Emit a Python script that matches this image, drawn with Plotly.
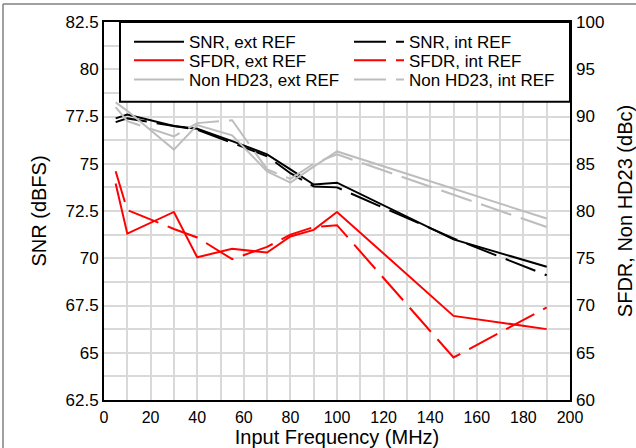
import plotly.graph_objects as go

freq = [5, 10, 30, 40, 55, 70, 80, 90, 100, 150, 190]

snr_ext = [77.4, 77.6, 77.0, 76.85, 76.2, 75.5, 74.7, 73.9, 74.0, 71.0, 69.55]
snr_int = [77.2, 77.4, 77.0, 76.8, 76.1, 75.4, 74.5, 73.8, 73.75, 71.05, 69.1]

sfdr_ext = [82.9, 77.6, 79.9, 75.1, 76.0, 75.6, 77.3, 78.0, 79.9, 68.9, 67.5]
sfdr_int = [84.2, 80.1, 78.1, 77.2, 74.9, 76.2, 77.5, 78.3, 78.5, 64.5, 69.8]

hd23_ext = [91.5, 90.6, 86.5, 89.1, 88.0, 84.2, 83.0, 84.7, 86.3, 82.4, 79.2]
hd23_int = [91.0, 89.5, 87.9, 89.3, 89.6, 84.4, 83.4, 85.0, 86.0, 81.7, 78.3]

FONT = "Liberation Sans, Arial, sans-serif"
DASH = "32px,10px"
BLACK, RED, GRAY = "#000000", "#ff0000", "#bdbdbd"

fig = go.Figure()

def add(y, name, color, dash, axis, legend):
    fig.add_trace(go.Scatter(
        x=freq, y=y, name=name, mode="lines",
        line=dict(color=color, width=2, dash=dash),
        yaxis=axis, legend=legend))

add(snr_ext, "SNR, ext REF", BLACK, "solid", "y", "legend")
add(snr_int, "SNR, int REF", BLACK, DASH, "y", "legend")
add(sfdr_ext, "SFDR, ext REF", RED, "solid", "y2", "legend2")
add(sfdr_int, "SFDR, int REF", RED, DASH, "y2", "legend2")
add(hd23_ext, "Non HD23, ext REF", GRAY, "solid", "y2", "legend3")
add(hd23_int, "Non HD23, int REF", GRAY, DASH, "y2", "legend3")

GRID = "#d9d9d9"

def leg(yc):
    return dict(orientation="h", x=(129 - 104) / 466, xanchor="left",
                y=(400 - yc) / 378, yanchor="middle",
                bgcolor="rgba(0,0,0,0)", borderwidth=0,
                font=dict(family=FONT, size=17, color="black"),
                itemwidth=50, entrywidth=155, entrywidthmode="pixels",
                traceorder="normal")

fig.update_layout(
    width=636, height=448,
    margin=dict(l=104, r=66, t=22, b=48, autoexpand=False),
    paper_bgcolor="white", plot_bgcolor="white",
    font=dict(family=FONT, size=17, color="black"),
    showlegend=True,
    legend=leg(42.3), legend2=leg(60.7), legend3=leg(80),
    xaxis=dict(range=[0, 200], dtick=20, tick0=0, automargin=False,
               showgrid=True, gridcolor=GRID, gridwidth=1.5,
               minor=dict(dtick=10, showgrid=True, gridcolor=GRID, gridwidth=1.5),
               showline=True, linecolor="black", linewidth=2, mirror=True,
               ticks="", zeroline=False, ticklabelstandoff=2,
               tickfont=dict(size=16),
               title=dict(text="Input Frequency (MHz)", standoff=0)),
    yaxis=dict(range=[62.5, 82.5], dtick=2.5, tick0=62.5, automargin=False,
               showgrid=True, gridcolor=GRID, gridwidth=1.5,
               minor=dict(dtick=1.25, showgrid=True, gridcolor=GRID, gridwidth=1.5),
               showline=True, linecolor="black", linewidth=2, mirror=True,
               ticks="", zeroline=False,
               title=dict(text="SNR (dBFS)", standoff=14)),
    yaxis2=dict(range=[60, 100], dtick=5, tick0=60, overlaying="y", side="right",
                automargin=False,
                showgrid=False, ticks="", zeroline=False, showline=False,
                ticklabelstandoff=5,
                title=dict(text="SFDR, Non HD23 (dBc)", standoff=22)),
    shapes=[
        dict(type="rect", xref="paper", yref="paper",
             x0=(120 - 104) / 466, x1=1, y0=(400 - 101.7) / 378, y1=1,
             line=dict(color="black", width=2), fillcolor="white", layer="above"),
        dict(type="line", xref="paper", yref="paper",
             x0=(3 - 104) / 466, x1=(636 - 104) / 466,
             y0=(400 - 4) / 378, y1=(400 - 4) / 378,
             line=dict(color="#808080", width=1.5)),
        dict(type="line", xref="paper", yref="paper",
             x0=(3 - 104) / 466, x1=(3 - 104) / 466,
             y0=(400 - 4) / 378, y1=(400 - 448) / 378,
             line=dict(color="#808080", width=1.5)),
    ],
)

fig.write_html("out.html", config={"displayModeBar": False},
               post_script="document.body.style.margin='0';document.body.style.padding='0';")
